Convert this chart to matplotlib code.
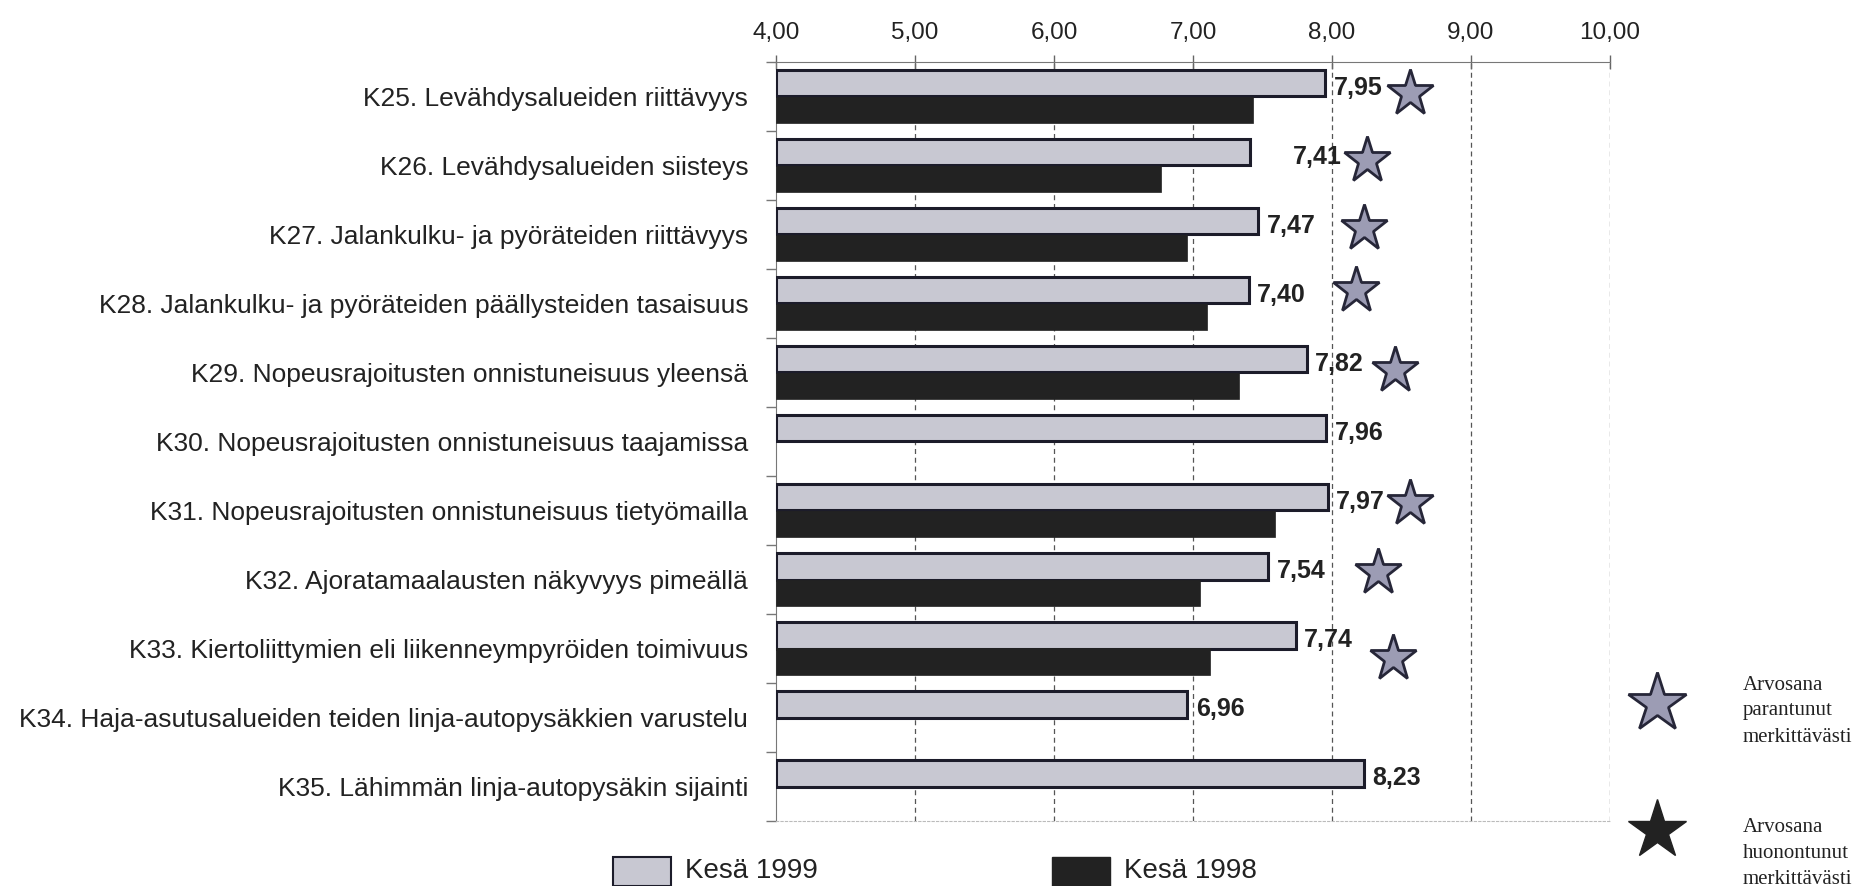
import numpy as np
import matplotlib
matplotlib.use("Agg")
from matplotlib import pyplot as plt
from matplotlib import font_manager
from matplotlib.patches import Rectangle
from matplotlib.lines import Line2D

names = {f.name for f in font_manager.fontManager.ttflist}
narrow = "Liberation Sans Narrow" if "Liberation Sans Narrow" in names else "Liberation Sans"

categories = [
    "K25. Levähdysalueiden riittävyys",
    "K26. Levähdysalueiden siisteys",
    "K27. Jalankulku- ja pyöräteiden riittävyys",
    "K28. Jalankulku- ja pyöräteiden päällysteiden tasaisuus",
    "K29. Nopeusrajoitusten onnistuneisuus yleensä",
    "K30. Nopeusrajoitusten onnistuneisuus taajamissa",
    "K31. Nopeusrajoitusten onnistuneisuus tietyömailla",
    "K32. Ajoratamaalausten näkyvyys pimeällä",
    "K33. Kiertoliittymien eli liikenneympyröiden toimivuus",
    "K34. Haja-asutusalueiden teiden linja-autopysäkkien varustelu",
    "K35. Lähimmän linja-autopysäkin sijainti",
]
kesa_1999 = [7.95, 7.41, 7.47, 7.40, 7.82, 7.96, 7.97, 7.54, 7.74, 6.96, 8.23]
kesa_1998 = [7.43, 6.77, 6.96, 7.10, 7.33, np.nan, 7.59, 7.05, 7.12, np.nan, np.nan]
value_labels = ["7,95", "7,41", "7,47", "7,40", "7,82", "7,96", "7,97", "7,54", "7,74", "6,96", "8,23"]
label_shift = [0, 25, 0, 0, 0, 0, 0, 0, 0, 0, 0]  # points, K26 label sits further out

# significant improvement stars
star_cats = [0, 1, 2, 3, 4, 6, 7, 8]
star_x = [8.56, 8.25, 8.23, 8.17, 8.45, 8.56, 8.33, 8.44]
star_dy = [-0.05, -0.08, -0.09, -0.20, -0.04, -0.11, -0.11, 0.14]

xticks = [4, 5, 6, 7, 8, 9, 10]
xtick_labels = ["4,00", "5,00", "6,00", "7,00", "8,00", "9,00", "10,00"]

light = "#c8c8d2"
dark = "#222222"
edge = "#1c1c2a"
star_fill = "#9c9cb4"
txt = "#222222"

W, H = 1859, 886
fig = plt.figure(figsize=(W / 100, H / 100), dpi=100)
ax = fig.add_axes([776 / W, 1 - 821 / H, (1610 - 776) / W, (821 - 62) / H])

y = np.arange(len(categories))
bh = 0.38
ax.barh(y - 0.19, np.array(kesa_1999) - 4, left=4, height=bh, color=light,
        edgecolor=edge, linewidth=2.2, zorder=3)
ax.barh(y + 0.19, np.array(kesa_1998) - 4, left=4, height=bh, color=dark,
        edgecolor=dark, linewidth=0.5, zorder=3)

for i, (v, s) in enumerate(zip(kesa_1999, value_labels)):
    ax.annotate(s, (v, i - 0.13), xytext=(6 + label_shift[i], 0), textcoords="offset points",
                va="center", ha="left", fontsize=18, fontweight="bold",
                family="Liberation Sans", color=txt, zorder=4)

ax.plot(star_x, np.array(star_cats) + np.array(star_dy), ls="none", marker="*",
        markersize=35, markerfacecolor=star_fill, markeredgecolor="#262638",
        markeredgewidth=2.0, clip_on=False, zorder=5)

ax.set_xlim(4, 10)
ax.set_ylim(len(categories) - 0.5, -0.5)
ax.set_xticks(xticks)
ax.set_xticklabels(xtick_labels, family=narrow, fontsize=17.5, color=txt)
ax.xaxis.tick_top()
ax.tick_params(axis="x", which="major", direction="inout", length=10, width=1,
               color="#666666", pad=8)
ax.set_yticks(y)
ax.set_yticklabels(categories, family=narrow, fontsize=19, color=txt)
ax.set_yticks(np.arange(-0.5, len(categories) + 0.5, 1), minor=True)
ax.tick_params(axis="y", which="major", length=0, pad=20)
ax.tick_params(axis="y", which="minor", direction="out", length=7, width=1, color="#777777")

for xv in xticks[1:]:
    ax.axvline(xv, color="#555555", lw=0.9, ls=(0, (4, 3)), zorder=1)

ax.spines["right"].set_visible(False)
ax.spines["top"].set_color("#777777")
ax.spines["left"].set_color("#777777")
ax.spines["bottom"].set_color("#bbbbbb")
ax.spines["bottom"].set_linestyle((0, (2, 2)))

# bottom legend
fig.patches.append(Rectangle((613 / W, 1 - 886 / H), 58 / W, 29 / H, transform=fig.transFigure,
                             facecolor=light, edgecolor=edge, linewidth=1.5))
fig.text(685 / W, 1 - 871 / H, "Kesä 1999", family=narrow, fontsize=20, color=txt, va="center")
fig.patches.append(Rectangle((1052 / W, 1 - 886 / H), 58 / W, 29 / H, transform=fig.transFigure,
                             facecolor=dark, edgecolor=dark, linewidth=1.0))
fig.text(1124 / W, 1 - 871 / H, "Kesä 1998", family=narrow, fontsize=20, color=txt, va="center")

# right legend
fig.add_artist(Line2D([1657 / W], [1 - 703 / H], transform=fig.transFigure, marker="*",
                      markersize=44, markerfacecolor=star_fill, markeredgecolor="#262638",
                      markeredgewidth=2.0, ls="none"))
fig.text(1743 / W, 1 - 711 / H, "Arvosana\nparantunut\nmerkittävästi", family="Liberation Serif",
         fontsize=15, color=txt, va="center", linespacing=1.5)
fig.add_artist(Line2D([1657 / W], [1 - 830 / H], transform=fig.transFigure, marker="*",
                      markersize=44, markerfacecolor=dark, markeredgecolor=dark, ls="none"))
fig.text(1743 / W, 1 - 853 / H, "Arvosana\nhuonontunut\nmerkittävästi", family="Liberation Serif",
         fontsize=15, color=txt, va="center", linespacing=1.5)

fig.savefig("out.png", dpi=100)
